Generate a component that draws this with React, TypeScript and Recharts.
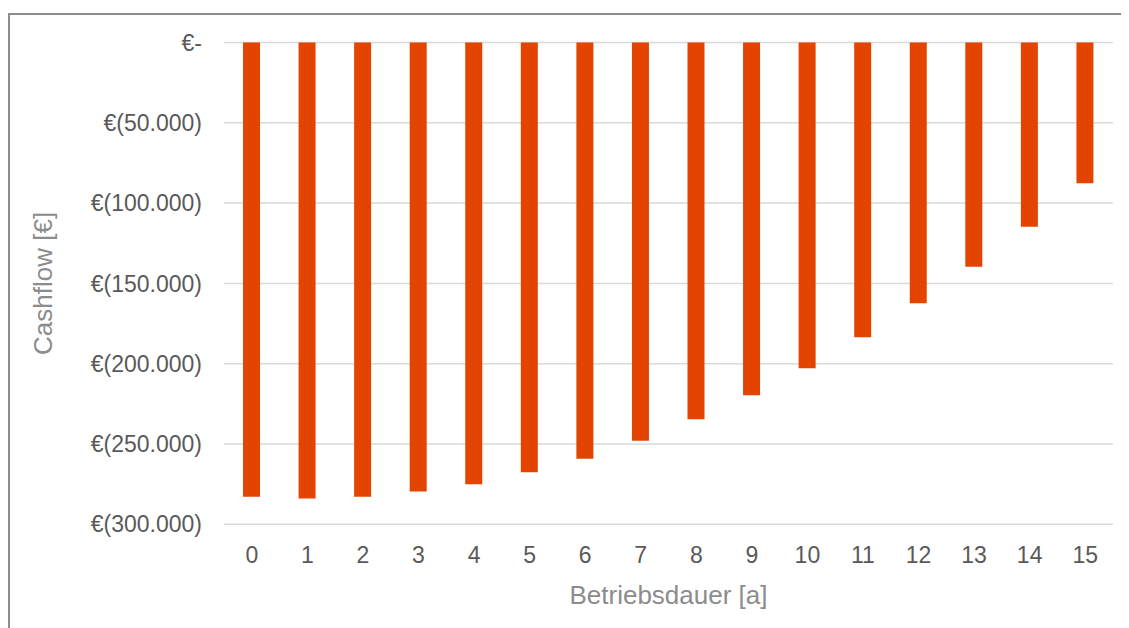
import { Bar, BarChart, CartesianGrid, Label, XAxis, YAxis } from "recharts";

const years = ["0", "1", "2", "3", "4", "5", "6", "7", "8", "9", "10", "11", "12", "13", "14", "15"];
const cashflow = [
  -282800, -284000, -282800, -279600, -275000, -267600, -259200, -248000,
  -234600, -219700, -202900, -183600, -162400, -139600, -114700, -87700,
];
const yTicks = [0, -50000, -100000, -150000, -200000, -250000, -300000];

const data = years.map((year, i) => ({ year, value: cashflow[i] }));

const font = "'Liberation Sans', Arial, sans-serif";

function formatEuro(v: number) {
  if (v === 0) return "€-";
  const s = String(Math.abs(v)).replace(/\B(?=(\d{3})+(?!\d))/g, ".");
  return v < 0 ? `€(${s})` : `€${s}`;
}

export default function App() {
  return (
    <div style={{ position: "relative", width: 1121, height: 620, fontFamily: font }}>
      <style>{`body{overflow:hidden}`}</style>
      <div
        style={{
          position: "absolute",
          left: 0,
          top: 5,
          width: 1200,
          height: 700,
          border: "2px solid #8c8c8c",
          boxSizing: "border-box",
        }}
      />
      <div style={{ position: "absolute", left: 0, top: 0 }}>
        <BarChart width={1121} height={620} data={data} margin={{ top: 34.5, right: 16, bottom: 0, left: 0 }}>
          <CartesianGrid vertical={false} stroke="#d9d9d9" strokeWidth={1.5} />
          <XAxis
            dataKey="year"
            axisLine={false}
            tickLine={false}
            tickSize={0}
            tickMargin={22}
            interval={0}
            height={103.7}
            tick={{ fill: "#595959", fontSize: 23, fontFamily: font }}
          >
            <Label value="Betriebsdauer [a]" position="insideBottom" offset={24} fill="#8c8c8c" fontSize={26} fontFamily={font} />
          </XAxis>
          <YAxis
            width={216}
            domain={[-300000, 0]}
            ticks={yTicks}
            tickFormatter={formatEuro}
            axisLine={false}
            tickLine={false}
            tickSize={0}
            tickMargin={22}
            tick={{ fill: "#595959", fontSize: 23, fontFamily: font }}
          >
            <Label
              value="Cashflow [€]"
              angle={-90}
              position="insideLeft"
              offset={34.5}
              fill="#8c8c8c"
              fontSize={26}
              fontFamily={font}
              style={{ textAnchor: "middle" }}
            />
          </YAxis>
          <Bar dataKey="value" fill="#e34400" barSize={17} isAnimationActive={false} />
        </BarChart>
      </div>
    </div>
  );
}
